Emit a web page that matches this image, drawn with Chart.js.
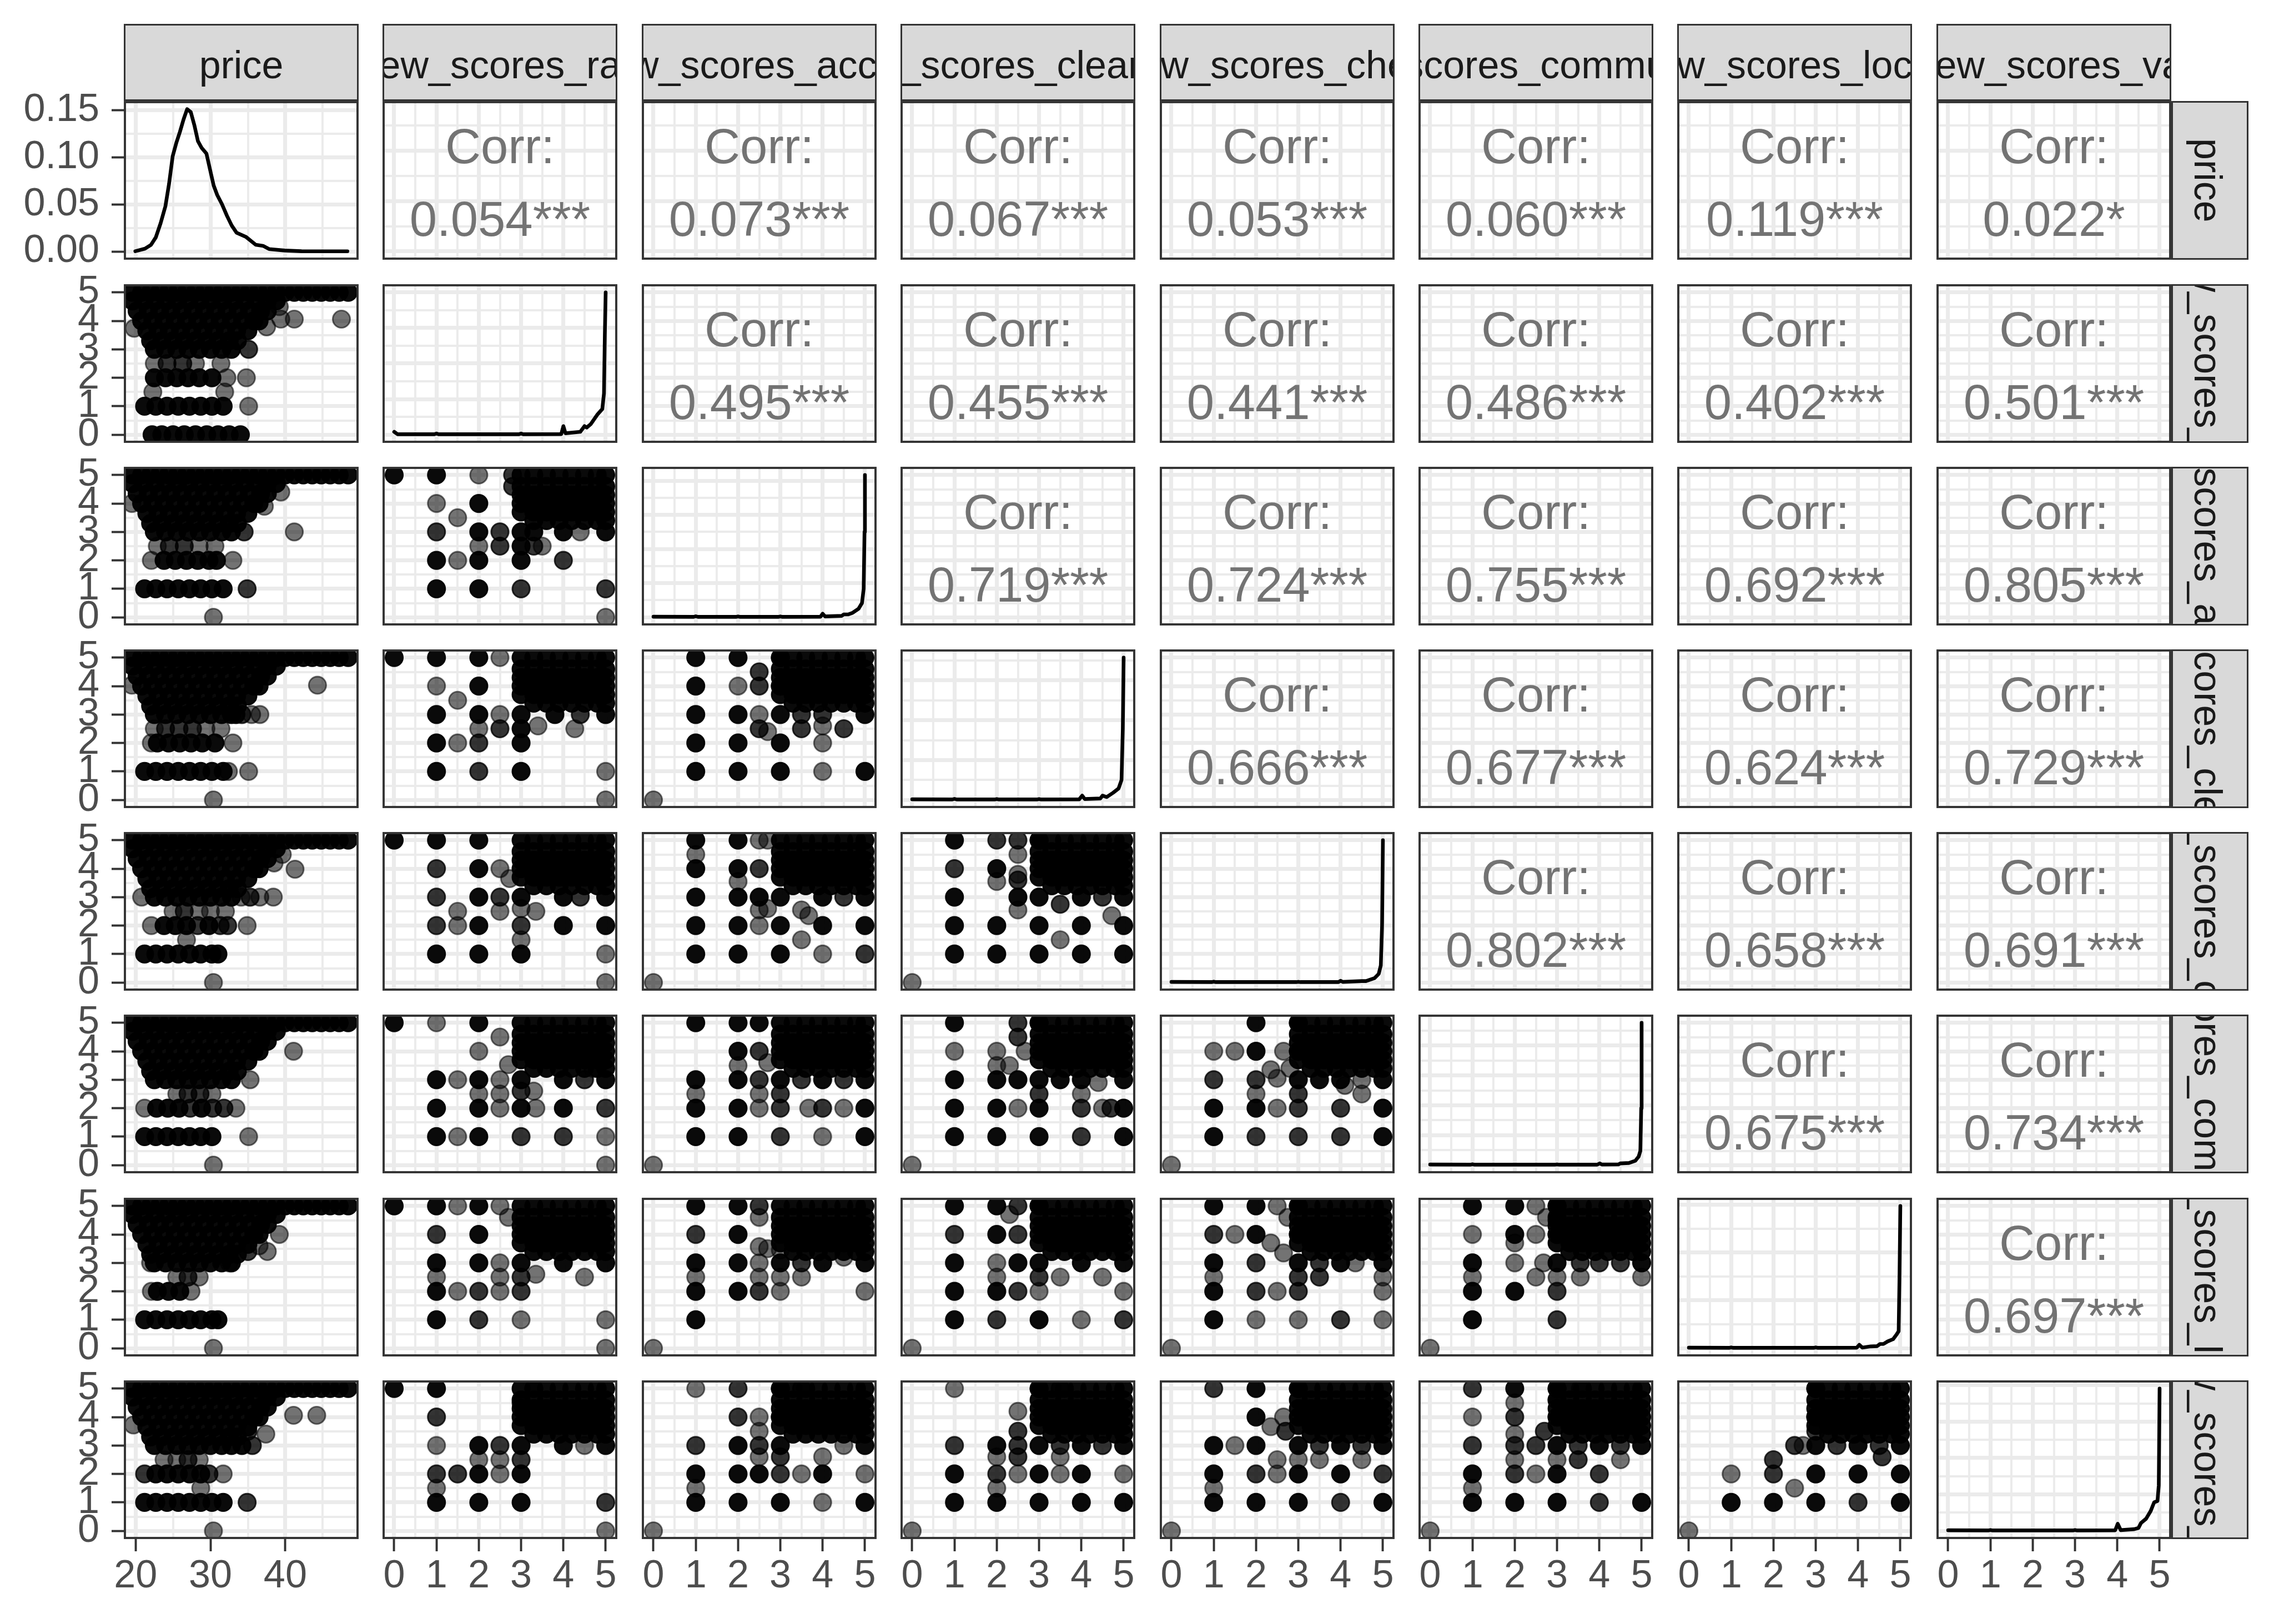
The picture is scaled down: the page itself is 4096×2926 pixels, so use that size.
<!DOCTYPE html>
<html><head><meta charset="utf-8">
<script src="https://cdn.jsdelivr.net/npm/chart.js@4.4.1/dist/chart.umd.min.js"></script>
<style>
html,body{margin:0;padding:0;background:#fff;width:4096px;height:2926px;overflow:hidden;position:relative;font-family:"Liberation Sans",Arial,sans-serif}
canvas{position:absolute}
.strip{position:absolute;box-sizing:border-box;background:#D9D9D9;border:3.9px solid #333;overflow:hidden;display:flex;align-items:center;justify-content:center;color:#1A1A1A;font-size:70px;white-space:nowrap}
.strip span{flex:none;transform:translateY(4px)}
.strip.v span{writing-mode:vertical-rl;transform:translateX(-4px)}
</style></head><body>
<script>
// ---------------- DATA ----------------
const varNames = ['price','review_scores_rating','review_scores_accuracy','review_scores_cleanliness','review_scores_checkin','review_scores_communication','review_scores_location','review_scores_value'];

const priceTicks = [20,25,30,35,40,45];
const priceTickLabels = ['20','','30','','40',''];
const scoreTicks = [0,0.5,1,1.5,2,2.5,3,3.5,4,4.5,5];
const scoreTickLabels = ['0','','1','','2','','3','','4','','5'];
const densTicks = [0,0.025,0.05,0.075,0.1,0.125,0.15];
const densTickLabels = ['0.00','','0.05','','0.10','','0.15'];

const corrValues = ['0.054','0.073','0.067','0.053','0.060','0.119','0.022',
  '0.495','0.455','0.441','0.486','0.402','0.501',
  '0.719','0.724','0.755','0.692','0.805',
  '0.666','0.677','0.624','0.729',
  '0.802','0.658','0.691',
  '0.675','0.734',
  '0.697'];
const corrStars = ['***','***','***','***','***','***','*',
  '***','***','***','***','***','***',
  '***','***','***','***','***',
  '***','***','***','***',
  '***','***','***',
  '***','***',
  '***'];

// price density (row 1 diagonal)
const priceDensity = [[19.96,0.0003],[21.25,0.003],[22.05,0.007],[22.7,0.015],[23.34,0.03],[23.98,0.048],[24.47,0.072],[24.95,0.101],[25.43,0.115],[25.92,0.127],[26.4,0.14],[26.88,0.151],[27.37,0.148],[27.85,0.134],[28.33,0.117],[28.82,0.11],[29.46,0.104],[29.94,0.087],[30.43,0.07],[30.9,0.06],[31.55,0.05],[32.2,0.038],[32.84,0.0275],[33.48,0.02],[34.77,0.0153],[36.05,0.0071],[37.02,0.006],[37.83,0.0026],[39.92,0.001],[42.17,0.0003],[45.4,0.0002],[48.3,0.0002]];

// rating densities (relative to each peak)
const densRating = [[0,0.02],[0.08,0.003],[0.95,0.003],[1,0.008],[1.05,0.003],[2.95,0.003],[3,0.008],[3.05,0.003],[3.95,0.004],[4,0.06],[4.05,0.01],[4.4,0.02],[4.5,0.06],[4.55,0.05],[4.65,0.075],[4.8,0.14],[4.92,0.18],[4.96,0.29],[4.98,0.7],[5,1]];
const densAccuracy = [[0,0.004],[0.95,0.003],[1,0.007],[1.05,0.003],[1.95,0.003],[2,0.006],[2.05,0.003],[2.95,0.003],[3,0.006],[3.05,0.003],[3.95,0.004],[4,0.025],[4.06,0.006],[4.45,0.01],[4.5,0.02],[4.6,0.02],[4.7,0.03],[4.85,0.06],[4.93,0.1],[4.97,0.2],[4.99,0.6],[5,1]];
const densClean = [[0,0.004],[0.95,0.003],[1,0.007],[1.05,0.003],[1.95,0.003],[2,0.006],[2.05,0.003],[2.95,0.003],[3,0.006],[3.05,0.003],[3.95,0.004],[4.02,0.03],[4.08,0.006],[4.45,0.01],[4.5,0.03],[4.6,0.02],[4.75,0.05],[4.88,0.08],[4.95,0.14],[4.98,0.5],[5,1]];
const densCheckin = [[0,0.004],[0.95,0.003],[1,0.006],[1.05,0.003],[2.95,0.003],[3,0.005],[3.05,0.003],[3.95,0.003],[4,0.012],[4.05,0.004],[4.5,0.01],[4.6,0.01],[4.8,0.03],[4.9,0.06],[4.95,0.12],[4.98,0.4],[5,1]];
const densComm = [[0,0.004],[0.95,0.003],[1,0.006],[1.05,0.003],[2.95,0.003],[3,0.005],[3.05,0.003],[3.95,0.003],[4.01,0.012],[4.06,0.004],[4.45,0.005],[4.5,0.012],[4.7,0.015],[4.85,0.03],[4.93,0.06],[4.97,0.1],[4.99,0.4],[5,1]];
const densLoc = [[0,0.004],[0.95,0.003],[1,0.006],[1.05,0.003],[2.95,0.003],[3,0.006],[3.05,0.003],[3.97,0.004],[4.03,0.024],[4.1,0.005],[4.3,0.013],[4.45,0.015],[4.52,0.03],[4.6,0.03],[4.7,0.048],[4.83,0.064],[4.91,0.096],[4.96,0.12],[4.98,0.5],[5,1]];
const densValue = [[0,0.004],[0.95,0.003],[1,0.006],[1.05,0.003],[2.95,0.003],[3,0.006],[3.05,0.003],[3.95,0.004],[4.01,0.05],[4.08,0.005],[4.4,0.012],[4.5,0.02],[4.56,0.055],[4.68,0.085],[4.79,0.14],[4.87,0.2],[4.95,0.21],[4.98,0.32],[5,1]];

// density axis grid values (relative units)
const gridRating = [0,0.125,0.25,0.375,0.5,0.625,0.75,0.875,1];
const gridAccuracy = [0,0.12,0.24,0.36,0.48,0.6,0.72,0.84,0.96];
const gridClean = [0,0.14,0.28,0.42,0.56,0.7,0.84,0.98];
const gridCheckin = [0,0.1,0.2,0.3,0.4,0.5,0.6,0.7,0.8,0.9,1];
const gridComm = [0,0.105,0.21,0.315,0.42,0.525,0.63,0.735,0.84,0.945];
const gridLoc = [0,0.168,0.336,0.504,0.672,0.84,1.008];
const gridValue = [0,0.128,0.256,0.384,0.512,0.64,0.768,0.896,1.024];

// dense cloud shared by every price panel (price, score)
const priceCore = [
 [19.6,5],[20.8,5],[22,5],[23.2,5],[24.4,5],[25.6,5],[26.8,5],[28,5],[29.2,5],[30.4,5],[31.6,5],[32.8,5],[34,5],[35.2,5],[36.4,5],[37.6,5],[38.8,5],[40,5],[41.2,5],[42.4,5],[43.6,5],[44.8,5],[46,5],[47.2,5],[48.4,5],
 [19.6,4.7],[21.1,4.7],[22.6,4.7],[24.1,4.7],[25.6,4.7],[27.1,4.7],[28.6,4.7],[30.1,4.7],[31.6,4.7],[33.1,4.7],[34.6,4.7],[36.1,4.7],[37.6,4.7],[38.8,4.7],
 [20.2,4.35],[21.7,4.35],[23.2,4.35],[24.7,4.35],[26.2,4.35],[27.7,4.35],[29.2,4.35],[30.7,4.35],[32.2,4.35],[33.7,4.35],[35.2,4.35],[36.7,4.35],[37.6,4.35],
 [20.8,4],[22.3,4],[23.8,4],[25.3,4],[26.8,4],[28.3,4],[29.8,4],[31.3,4],[32.8,4],[34.3,4],[35.8,4],[36.5,4],
 [21.5,3.65],[23,3.65],[24.5,3.65],[26,3.65],[27.5,3.65],[29,3.65],[30.5,3.65],[32,3.65],[33.5,3.65],[35,3.65],
 [22,3.3],[23.5,3.3],[25,3.3],[26.5,3.3],[28,3.3],[29.5,3.3],[31,3.3],[32.5,3.3],[33.6,3.3],
 [22.5,3],[24,3],[25.5,3],[27,3],[28.5,3],[30,3],[31.5,3],[32.8,3]
];
// dense cloud shared by every score-vs-score panel
const ratingCore = [
 [3,5],[3.3,5],[3.6,5],[3.9,5],[4.2,5],[4.5,5],[4.8,5],[5,5],
 [3,4.6],[3.3,4.6],[3.6,4.6],[3.9,4.6],[4.2,4.6],[4.5,4.6],[4.8,4.6],[5,4.6],
 [3,4.3],[3.3,4.3],[3.6,4.3],[3.9,4.3],[4.2,4.3],[4.5,4.3],[4.8,4.3],[5,4.3],
 [3,4],[3.3,4],[3.6,4],[3.9,4],[4.2,4],[4.5,4],[4.8,4],[5,4],
 [3,3.7],[3.3,3.7],[3.6,3.7],[3.9,3.7],[4.2,3.7],[4.5,3.7],[4.8,3.7],[5,3.7],
 [3.3,3.4],[3.6,3.4],[3.9,3.4],[4.2,3.4],[4.5,3.4],[4.8,3.4],[5,3.4]
];

// [x, y, overlap count]
const priceRating = [[19.8,3.74,1],[41.2,4.06,1],[47.5,4.06,1],[39.4,4.06,1],[37.5,3.79,1],[39.2,4.5,1],[35.1,3,2],
 [22.5,2.5,1],[24.2,2.5,2],[26.3,2.5,2],[28,2.5,1],[31.4,2.5,1],
 [22.5,2,4],[24,2,4],[25.5,2,4],[27,2,4],[28.5,2,4],[30.2,2,4],[32.2,2,1],[34.8,2,1],
 [22.3,1.5,1],[31.9,1.5,1],
 [21.2,1,4],[22.7,1,4],[24.2,1,4],[25.7,1,4],[27.2,1,4],[28.7,1,4],[30.2,1,4],[31.7,1,4],[35.1,1,1],
 [22.2,0,4],[23.5,0,4],[25,0,4],[26.5,0,4],[28,0,4],[29.5,0,4],[31,0,4],[32.5,0,4],[34,0,4]];
const priceAccuracy = [[19.5,4,1],[41.2,3,1],[39.4,4.4,1],[37.2,3.9,1],[34.5,3,2],
 [22.9,2.5,1],[24.5,2.5,2],[26.5,2.5,2],[28.5,2.5,1],[30.6,2.5,1],
 [23.8,2,4],[25.3,2,4],[26.8,2,4],[28.3,2,4],[29.8,2,4],[30.8,2,4],[22.1,2,1],[33,2,1],
 [21.2,1,4],[22.7,1,4],[24.2,1,4],[25.7,1,4],[27.2,1,4],[28.7,1,4],[30.2,1,4],[31.7,1,4],[34.9,1,2],
 [30.4,0,1]];
const priceCleanliness = [[44.3,4.03,1],[19.5,4.03,1],[33.4,3,4],[34.2,3,2],[35.5,3,1],[36.6,3,1],
 [22.5,2.5,1],[24,2.5,2],[25.8,2.5,2],[27.6,2.5,2],[29.4,2.5,1],[31.4,2.5,1],
 [22.9,2,4],[24.4,2,4],[25.9,2,4],[27.4,2,4],[28.9,2,4],[30.6,2,4],[22.1,2,1],[33,2,1],
 [21.2,1,4],[22.7,1,4],[24.2,1,4],[25.7,1,4],[27.2,1,4],[28.7,1,4],[30.2,1,4],[31.7,1,4],[32.4,1,1],[35.1,1,1],
 [30.4,0,1]];
const priceCheckin = [[41.3,3.98,1],[38.5,4.2,1],[39.6,4.5,1],[20.8,3,1],[34.1,3,1],[35.3,3,2],[36.6,3,1],[38.4,3,1],
 [25,2.5,1],[26.5,2.5,2],[28.5,2.5,1],[30,2.5,1],[32,2.5,1],
 [23.8,2,4],[25.3,2,4],[26.8,2,4],[28.3,2,2],[29.8,2,4],[31.3,2,2],[32.3,2,2],[22.1,2,1],[34.9,2,1],
 [26.8,1.5,1],
 [21.2,1,4],[22.7,1,4],[24.2,1,4],[25.7,1,4],[27.2,1,4],[28.7,1,4],[30.2,1,4],[31,1,4],
 [30.4,0,1]];
const priceCommunication = [[41.1,4,1],[35.3,3,1],
 [25.5,2.5,1],[27,2.5,2],[28.6,2.5,2],[30.2,2.5,1],
 [21.2,2,1],[22.8,2,4],[24.3,2,4],[25.8,2,4],[27.3,2,2],[28.8,2,4],[30.3,2,2],[31.8,2,2],[33.4,2,1],
 [21.2,1,4],[22.7,1,4],[24.2,1,4],[25.7,1,4],[27.2,1,4],[28.7,1,4],[30.2,1,4],[35.1,1,1],
 [30.4,0,1]];
const priceLocation = [[39.2,4,1],[36.5,3.6,1],[37.6,3.4,1],[35,3.4,2],[22,3,1],[32.5,3,1],
 [25.5,2.5,1],[27,2.5,2],[28.5,2.5,1],
 [22.9,2,4],[24.4,2,4],[25.9,2,4],[22.1,2,1],[27.4,2,1],
 [21.2,1,4],[22.7,1,4],[24.2,1,4],[25.7,1,4],[27.2,1,4],[28.7,1,4],[30.2,1,4],[31,1,4],
 [30.4,0,1]];
const priceValue = [[41.1,4.06,1],[44.2,4.06,1],[19.7,3.72,1],[37.4,3.4,1],[35,3.5,2],[34.2,3,4],[35.6,3,2],
 [23.8,2.5,1],[25.5,2.5,1],[27,2.5,2],[28.5,2.5,1],
 [21.2,2,2],[22.7,2,4],[24.2,2,4],[25.7,2,4],[27.2,2,4],[28.7,2,4],[29.8,2,2],[31.7,2,1],
 [28.7,1.5,1],
 [21.2,1,4],[22.7,1,4],[24.2,1,4],[25.7,1,4],[27.2,1,4],[28.7,1,4],[30.2,1,4],[31.7,1,4],[34.9,1,2],
 [30.4,0,1]];

const accuracyRating = [[0,5,4],[1,5,4],[2,5,1],[1,4,1],[2,4,4],[1.5,3.5,1],[1,3,2],[2,3,4],[2.5,3,2],[2.5,2.5,2],[2,2.5,1],[1,2,4],[1.5,2,1],[2,2,4],[3,2,4],[4,2,2],[1,1,4],[2,1,4],[3,1,2],[5,1,2],[5,0,1],[3,3,4],[3.3,3,4],[4,3,4],[5,3,4],[4.4,3,1],[3.5,2.5,1],[3.3,2.5,2],[3,2.5,4],[2.8,4.6,2],[2.8,5,2]];
const cleanRating = [[0,5,4],[1,5,4],[2,5,4],[2.5,5,1],[1,4,1],[2,4,4],[1.5,3.5,1],[1,3,4],[2,3,4],[2.5,3,1],[3,3,4],[2,2.5,1],[2.5,2.5,2],[3,2.5,4],[3.4,2.6,1],[4.27,2.5,1],[1,2,4],[1.5,2,1],[2,2,2],[3,2,4],[1,1,4],[2,1,2],[3,1,4],[5,1,1],[5,0,1],[3.8,3,4],[4.4,3,2],[5,3,4]];
const checkinRating = [[0,5,4],[1,5,4],[2,5,4],[1,4,2],[2,4,4],[2.5,4,1],[1,3,2],[2,3,4],[2.5,3,2],[3,3,4],[2.5,2.5,1],[1.5,2.5,1],[1,2,2],[1.5,2,1],[2,2,4],[3,2,2],[4,2,4],[5,2,4],[3,1.5,1],[1,1,4],[2,1,4],[3,1,4],[5,1,1],[5,0,1],[4,3,4],[5,3,4],[4.4,3,2],[3.35,2.5,1],[3,2.6,1],[2.73,3.65,1]];
const commRating = [[0,5,4],[1,5,1],[2,5,4],[2.5,4.5,1],[2,4,1],[2.7,3.53,1],[1,3,4],[1.5,3,1],[2,3,4],[2.5,3,1],[3,3,4],[4,3,4],[4.5,3,2],[5,3,4],[2,2.5,1],[2.5,2.5,1],[3,2.6,2],[3.3,2.6,1],[1,2,4],[2,2,4],[2.5,2,1],[3,2,4],[3.35,2,1],[4,2,4],[5,2,2],[1,1,4],[1.5,1,1],[2,1,4],[3,1,2],[4,1,2],[5,1,1],[5,0,1],[4.7,3.4,1]];
const locRating = [[0,5,4],[1,5,4],[1.5,5,1],[2,5,4],[2.5,5,1],[2.7,4.6,1],[1,4,2],[2,4,4],[1,3,4],[2,3,4],[2.5,3,1],[3,3,4],[4,3,4],[5,3,4],[1,2.5,1],[2.5,2.5,1],[3,2.5,2],[3.35,2.6,1],[4.5,2.5,1],[1,2,4],[1.5,2,1],[2,2,2],[2.5,2,1],[3,2,2],[1,1,4],[2,1,2],[3,1,1],[5,1,1],[5,0,1]];
const valueRating = [[0,5,4],[1,5,4],[3.3,5,1],[1,4,2],[3,4.5,2],[1,3,1],[2,3,4],[2.5,3,2],[3,3,4],[4,3,4],[4.5,3,1],[5,3,4],[2,2.5,1],[2.5,2.5,1],[3,2.5,2],[1,2,2],[1.5,2,2],[2,2,4],[2.5,2,1],[3,2,4],[1,1.5,1],[1,1,4],[2,1,4],[3,1,4],[5,1,2],[5,0,1]];
const cleanAccuracy = [[1,5,4],[2,5,4],[3,5,4],[1,4,4],[2,4,1],[2.5,4,2],[2.5,4.5,2],[3,4,4],[1,3,4],[2,3,4],[2.5,3,1],[3,3,4],[2.5,2.5,2],[2.7,2.4,1],[3,2,4],[1,2,4],[2,2,4],[3.5,2.5,2],[4,2.6,1],[4,2,1],[4.5,2.5,2],[5,3,4],[1,1,4],[2,1,4],[3,1,4],[4,1,1],[5,1,4],[0,0,1],[4,3,2],[3.5,3,2]];
const checkinAccuracy = [[1,5,4],[1,4.5,1],[2,5,4],[2.5,5,1],[2.7,5,1],[1,4,4],[2,4,4],[2,3.55,1],[2.5,4,2],[1,3,4],[2,3,4],[2.5,3,4],[3,3,4],[4,3,4],[4.5,3,2],[5,3,4],[2.5,2.55,1],[2.7,2.6,1],[3.5,2.55,1],[3.67,2.35,1],[1,2,4],[2,2,4],[2.5,2,1],[3,2,4],[4,2,4],[5,2,4],[3.5,1.5,1],[1,1,4],[2,1,4],[3,1,4],[4,1,1],[5,1,2],[0,0,1]];
const commAccuracy = [[1,5,4],[2,5,4],[2.5,5,4],[2,4,4],[2,3.5,1],[2.5,4,2],[2.7,3.6,1],[1,3,4],[1,2.5,1],[2,3,4],[2.5,3,2],[2.5,2.5,1],[3,3,4],[3,2.5,2],[3.5,3,2],[4,3,4],[4.5,3,2],[5,3,4],[1,2,4],[2,2,4],[2.5,2,1],[3,2,2],[3.67,2,1],[4,2,2],[4.5,2,1],[5,2,4],[1,1,4],[2,1,4],[3,1,2],[4,1,1],[5,1,4],[0,0,1]];
const locAccuracy = [[1,5,4],[2,5,4],[2.5,5,2],[2.5,4.6,1],[1,4,2],[2,4,4],[2.5,3.57,1],[2.7,3.5,1],[3,3.45,1],[1,3,4],[1,2.5,1],[2,3,4],[2.5,3,1],[2.5,2.5,1],[3,3,4],[3,2.5,1],[3.5,3,2],[3.5,2.5,1],[4,3,4],[4.5,3.2,1],[5,3,4],[1,2,4],[2,2,4],[2.5,2,2],[3,2,1],[5,2,1],[1,1,4],[0,0,1]];
const valueAccuracy = [[1,5,1],[2,5,2],[3,5,4],[3.5,5,2],[2,4,2],[2.5,4,1],[2.5,3.5,1],[3,4,4],[1,3,2],[2,3,4],[2.5,3,2],[2.5,2.6,1],[3,3,4],[3,2.6,2],[4,2.6,1],[5,3,4],[4.5,3,1],[1,2,4],[1,1.5,1],[2,2,4],[2.5,2,4],[3,2,2],[3.5,2,1],[4,2,4],[5,2,1],[1,1,4],[2,1,4],[3,1,4],[4,1,1],[5,1,4],[0,0,1]];
const checkinClean = [[1,5,4],[2,5,2],[2.5,5,2],[3,5,4],[1,4,2],[2,4,4],[2,3.55,1],[2.5,4.5,1],[2.5,3.8,1],[2.5,3.6,2],[1,3,4],[2.5,3,4],[2.5,2.55,1],[3,3,4],[3.5,2.75,2],[4,3,4],[4.5,3,2],[5,3,4],[4.72,2.35,1],[1,2,4],[2,2,4],[3,2,4],[4,2,4],[5,2,4],[3.5,1.5,1],[1,1,4],[2,1,4],[3,1,4],[4,1,4],[5,1,4],[0,0,1]];
const commClean = [[1,5,4],[2.5,5,2],[3,5,4],[1,4,1],[2,4,1],[2,3.5,1],[2.3,3.5,1],[2.5,4.5,2],[2.67,4,1],[1,3,4],[2,3,4],[2.5,3,4],[3,3,4],[3,2.5,2],[3.5,3,4],[4,3,4],[4.4,2.9,1],[5,3,4],[1,2,4],[2,2,4],[2.5,2,1],[3,2,4],[4,2,2],[4,2.5,1],[4.5,2,1],[4.7,2,2],[5,2,4],[1,1,4],[2,1,4],[3,1,4],[4,1,2],[5,1,4],[0,0,1]];
const locClean = [[1,5,4],[2,5,4],[2.3,4.7,1],[2.5,5,2],[3,5,4],[1,4,2],[2,4,4],[2.5,4,2],[1,3,4],[2,3,1],[2,2.5,1],[2.5,3,4],[3,3,4],[3,2.5,2],[3.5,2.5,1],[4,3,4],[4.5,2.5,1],[5,3,4],[1,2,4],[2,2,4],[2.5,2,2],[3,2,1],[5,2,1],[1,1,4],[2,1,2],[3,1,4],[4,1,1],[5,1,2],[0,0,1]];
const valueClean = [[1,5,1],[3,5,4],[3.5,5,2],[2.5,4.2,1],[2.5,3.5,2],[1,3,2],[2,3,4],[2.5,3,2],[3,3,4],[3.5,3,2],[4,3,4],[4.5,3,2],[5,3,4],[2,2.6,1],[2.5,2.6,2],[3.5,2.6,1],[1,2,4],[2,2,2],[2,1.5,1],[2.5,2,1],[3,2,4],[3.5,2,1],[4,2,4],[5,2,1],[1,1,4],[2,1,4],[3,1,4],[4,1,4],[5,1,4],[0,0,1]];
const commCheckin = [[2,5,4],[3,5,4],[1,4,1],[1.5,4,1],[2,4,4],[2.65,4,1],[3,4,4],[2.35,3.35,1],[2.5,3.05,1],[2.8,3.4,1],[1,3,2],[2,3,2],[2,2.5,1],[3,3,4],[3,2.5,2],[3.5,3,4],[4,3,4],[4.1,2.8,1],[4.5,3,1],[4.5,2.5,1],[5,3,4],[1,2,4],[2,2,4],[2.5,2,1],[3,2,2],[4,2,2],[5,2,4],[1,1,4],[2,1,2],[3,1,2],[4,1,2],[5,1,4],[0,0,1]];
const locCheckin = [[1,5,4],[2,5,4],[2.5,5,1],[3,5,4],[2.75,4.6,1],[1,4,2],[1.5,4,1],[2,4,4],[2.35,3.7,1],[2.65,3.35,1],[3,4,4],[3,3,4],[1,3,4],[1,2.5,1],[2,3,2],[3,2.5,2],[3.5,3,2],[3.5,2.5,2],[4,3,4],[4.35,3,1],[5,3,4],[5,2.5,1],[1,2,4],[2,2,2],[2.5,2,1],[3,2,2],[5,2,1],[1,1,4],[2,1,1],[3,1,1],[4,1,2],[5,1,1],[0,0,1]];
const valueCheckin = [[1,5,2],[2,5,4],[3,5,4],[2,4,4],[2.65,4,1],[2.35,3.66,1],[2.7,3.5,2],[1,3,4],[1.5,3,1],[2,3,4],[3,3,4],[3.5,3,2],[4,3,4],[4.5,3,2],[5,3,4],[2.5,2.5,1],[3,2.5,1],[3.5,2.5,1],[4.5,2.5,1],[1,2,4],[2,2,2],[2.5,2,1],[3,2,4],[4,2,4],[5,2,2],[1,1.5,1],[1,1,4],[2,1,4],[3,1,4],[4,1,2],[5,1,4],[0,0,1]];
const locComm = [[1,5,4],[2,5,4],[2.5,5,1],[3,5,4],[2.75,4.6,1],[1,4,1],[2,4,4],[2,3.7,1],[2.5,4,1],[3,4.5,4],[3,4,4],[1,3,4],[1,2.5,1],[2,3,1],[2.68,3,1],[2.5,2.5,1],[3,3,4],[3,2.5,1],[3.55,3,2],[3.55,2.5,1],[4,3,2],[4.5,3,2],[5,3,4],[5,2.5,1],[1,2,4],[2,2,4],[3,2,2],[1,1,4],[3,1,2],[0,0,1]];
const valueComm = [[1,5,2],[2,5,4],[3,5,4],[3.55,5,1],[3,4.6,2],[2,4.5,1],[1,4,1],[2,4,2],[3,4,4],[2.7,3.5,2],[2,3.4,1],[1,3,2],[2,3,2],[2.5,3,2],[3,3,4],[3.5,3,2],[4,3,4],[4.5,3,2],[5,3,4],[2,2.5,1],[3,2.5,1],[3.5,2.5,2],[4.5,2.5,1],[1,2,4],[1,1.5,1],[2,2,2],[2.5,2,1],[3,2,4],[4,2,2],[1,1,4],[2,1,4],[3,1,4],[4,1,2],[5,1,4],[0,0,1]];
const valueLoc = [[3,5,4],[3,4,4],[3,3.5,2],[3.3,4.2,1],[2.5,3,2],[2.7,3,1],[3,3,4],[3.5,3,2],[4,3,4],[4.5,3,2],[4.57,2.6,2],[5,3,4],[2,2.5,2],[2,2,2],[1,2,1],[3,2,4],[4,2,4],[5,2,4],[2.5,1.5,1],[1,1,4],[2,1,4],[3,1,4],[4,1,2],[5,1,4],[0,0,1]];

// ---------------- LAYOUT / STYLE ----------------
const FONT = '"Liberation Sans", Arial, sans-serif';
Chart.defaults.font.family = FONT;
const colLeft = c => Math.round(224.9 + c * 466.4);
const rowTop = r => Math.round(184.3 + r * 329.2);
const PW = 419, PH = 282, M = 80;
const AXW = colLeft(0);
const AXH = 2926 - (rowTop(7) + PH);

function mkAxis(min, max, ticks, labels) {
  return {min, max, ticks, labels, major: labels ? labels.map(l => l !== '') : ticks.map((t, i) => i % 2 === 0)};
}
const priceAxis = mkAxis(18.57, 49.65, priceTicks, priceTickLabels);
const scoreAxis = mkAxis(-0.25, 5.25, scoreTicks, scoreTickLabels);
const densAxis = mkAxis(-0.0076, 0.1585, densTicks, densTickLabels);
const diagGrids = [null, gridRating, gridAccuracy, gridClean, gridCheckin, gridComm, gridLoc, gridValue];
const diagDens = [priceDensity, densRating, densAccuracy, densClean, densCheckin, densComm, densLoc, densValue];
const pricePanels = [null, priceRating, priceAccuracy, priceCleanliness, priceCheckin, priceCommunication, priceLocation, priceValue];
const scorePanels = {
  '2,1': accuracyRating, '3,1': cleanRating, '3,2': cleanAccuracy,
  '4,1': checkinRating, '4,2': checkinAccuracy, '4,3': checkinClean,
  '5,1': commRating, '5,2': commAccuracy, '5,3': commClean, '5,4': commCheckin,
  '6,1': locRating, '6,2': locAccuracy, '6,3': locClean, '6,4': locCheckin, '6,5': locComm,
  '7,1': valueRating, '7,2': valueAccuracy, '7,3': valueClean, '7,4': valueCheckin, '7,5': valueComm, '7,6': valueLoc
};

function scaleCfg(axis, isX, show) {
  return {
    type: 'linear', min: axis.min, max: axis.max, bounds: 'data', display: true,
    afterBuildTicks: s => { s.ticks = axis.ticks.map(v => ({value: v})); },
    afterFit: s => { if (isX) s.height = show ? AXH : 0; else s.width = show ? AXW : 0; },
    border: {display: false},
    grid: {
      display: true, drawOnChartArea: true, drawTicks: show, tickLength: 24,
      color: '#EBEBEB',
      lineWidth: ctx => axis.major[ctx.index] ? 7.1 : 3.9,
      tickColor: ctx => axis.major[ctx.index] ? '#333333' : 'rgba(0,0,0,0)',
      tickWidth: 3.9
    },
    ticks: {
      display: show, autoSkip: false, maxRotation: 0, minRotation: 0, padding: isX ? 4 : 22,
      color: '#4D4D4D', font: {family: FONT, size: 70.2},
      callback: (v, i) => (axis.labels ? axis.labels[i] : '')
    }
  };
}

const shade = ctx => {
  const n = ctx.raw && ctx.raw.n ? ctx.raw.n : 1;
  return 'rgba(0,0,0,' + (1 - Math.pow(0.45, n)).toFixed(3) + ')';
};
const toPts = (arr, n) => arr.map(p => ({x: p[0], y: p[1], n: p.length > 2 ? p[2] : n}));

const borderPlugin = {
  id: 'panelBorder',
  afterDraw(chart) {
    const a = chart.chartArea, g = chart.ctx;
    g.save(); g.strokeStyle = '#333333'; g.lineWidth = 3.9;
    g.strokeRect(a.left, a.top, a.right - a.left, a.bottom - a.top); g.restore();
  }
};
const corrPlugin = {
  id: 'corrText',
  afterDatasetsDraw(chart, args, opts) {
    if (!opts || !opts.lines) return;
    const a = chart.chartArea, g = chart.ctx;
    const cx = (a.left + a.right) / 2, cy = (a.top + a.bottom) / 2;
    g.save(); g.fillStyle = '#737373'; g.font = '88.7px ' + FONT;
    g.textAlign = 'center'; g.textBaseline = 'alphabetic';
    g.fillText(opts.lines[0], cx, cy - 31);
    g.fillText(opts.lines[1], cx, cy + 100);
    g.restore();
  }
};

let corrIdx = 0;
for (let r = 0; r < 8; r++) {
  for (let c = 0; c < 8; c++) {
    const xAxis = c === 0 ? priceAxis : scoreAxis;
    let yAxis, datasets = [], corr = null;
    if (r === c) {
      yAxis = r === 0 ? densAxis : mkAxis(-0.05, 1.05, diagGrids[r], null);
      datasets.push({data: diagDens[r].map(p => ({x: p[0], y: p[1]})), showLine: true, pointRadius: 0,
        borderColor: '#000000', borderWidth: 6.6, borderJoinStyle: 'round', borderCapStyle: 'round', fill: false});
    } else if (r > c) {
      yAxis = scoreAxis;
      const core = c === 0 ? priceCore : ratingCore;
      const extra = c === 0 ? pricePanels[r] : scorePanels[r + ',' + c];
      const pts = toPts(core, 4).concat(toPts(extra, 1));
      datasets.push({data: pts, pointRadius: 15.6, pointBorderWidth: 2.9,
        pointBackgroundColor: shade, pointBorderColor: shade, showLine: false, clip: 0});
    } else {
      yAxis = r === 0 ? priceAxis : scoreAxis;
      corr = {lines: ['Corr:', corrValues[corrIdx] + corrStars[corrIdx]]};
      corrIdx++;
    }
    const pl = c === 0 ? 0 : M, axW = c === 0 ? AXW : 0;
    const pb = r === 7 ? 0 : M, axH = r === 7 ? AXH : 0;
    const cl = c === 0 ? 0 : colLeft(c) - M;
    const ct = rowTop(r) - M;
    const cw = pl + axW + PW + M, ch = M + PH + axH + pb;
    const cv = document.createElement('canvas');
    cv.width = cw; cv.height = ch;
    cv.style.left = cl + 'px'; cv.style.top = ct + 'px';
    cv.style.width = cw + 'px'; cv.style.height = ch + 'px';
    document.body.appendChild(cv);
    new Chart(cv, {
      type: 'scatter',
      data: {datasets},
      options: {
        responsive: false, animation: false, devicePixelRatio: 1, events: [],
        layout: {padding: {left: pl, right: M, top: M, bottom: pb}},
        scales: {x: scaleCfg(xAxis, true, r === 7), y: scaleCfg(yAxis, false, c === 0)},
        plugins: {legend: {display: false}, tooltip: {enabled: false}, corrText: corr || {lines: null}}
      },
      plugins: [corrPlugin, borderPlugin]
    });
  }
}

function addStrip(text, left, top, width, height, vertical) {
  const d = document.createElement('div');
  d.className = 'strip' + (vertical ? ' v' : '');
  d.style.left = left + 'px'; d.style.top = top + 'px';
  d.style.width = width + 'px'; d.style.height = height + 'px';
  const s = document.createElement('span'); s.textContent = text;
  d.appendChild(s); document.body.appendChild(d);
}
for (let c = 0; c < 8; c++) addStrip(varNames[c], colLeft(c) - 2, 43, PW + 4, rowTop(0) - 2 - 43, false);
for (let r = 0; r < 8; r++) addStrip(varNames[r], colLeft(7) + PW + 2, rowTop(r) - 2, 4050 - (colLeft(7) + PW + 2), PH + 4, true);
</script>
</body></html>
